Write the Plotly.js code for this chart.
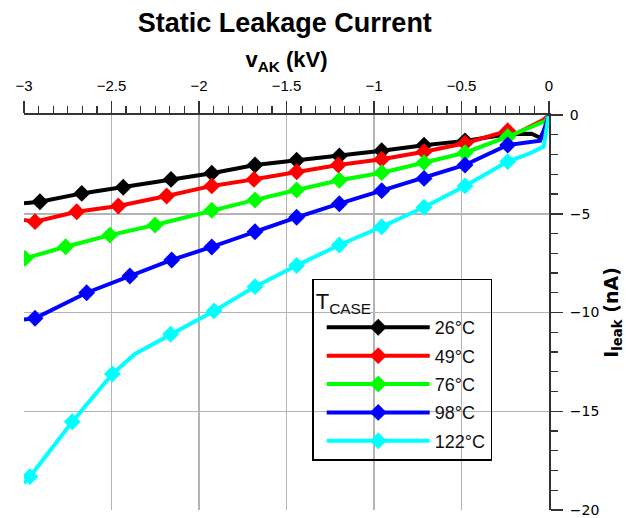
<!DOCTYPE html>
<html>
<head>
<meta charset="utf-8">
<script src="https://cdn.plot.ly/plotly-3.0.1.min.js"></script>
<style>html,body{margin:0;padding:0;background:#fff;}#chart{width:626px;height:518px;}</style>
</head>
<body>
<div id="chart"></div>
<script>
// Series labels (case temperature)
const seriesNames = ['26°C', '49°C', '76°C', '98°C', '122°C'];
const seriesColors = ['#000000', '#ff0000', '#00ff00', '#0000ff', '#00ffff'];

// Marker samples: v_AK (kV) and I_leak (nA)
const v26 = [-2.909, -2.670, -2.433, -2.160, -1.927, -1.680, -1.442, -1.198, -0.956, -0.714, -0.480, -0.236];
const i26 = [-4.39, -3.97, -3.66, -3.26, -2.95, -2.53, -2.29, -2.07, -1.81, -1.53, -1.31, -0.98];
const v49 = [-2.937, -2.699, -2.461, -2.185, -1.927, -1.686, -1.442, -1.204, -0.956, -0.714, -0.480, -0.236];
const i49 = [-5.40, -4.90, -4.61, -4.10, -3.59, -3.26, -2.87, -2.53, -2.24, -1.86, -1.43, -0.80];
const v76 = [-2.994, -2.762, -2.509, -2.251, -1.927, -1.680, -1.442, -1.198, -0.956, -0.714, -0.480, -0.236];
const i76 = [-7.26, -6.67, -6.08, -5.57, -4.82, -4.30, -3.80, -3.30, -2.92, -2.41, -1.91, -1.10];
const v98 = [-2.937, -2.642, -2.395, -2.156, -1.927, -1.680, -1.442, -1.198, -0.956, -0.714, -0.480, -0.236];
const i98 = [-10.29, -9.00, -8.15, -7.34, -6.68, -5.91, -5.18, -4.49, -3.83, -3.21, -2.53, -1.52];
const v122 = [-2.966, -2.724, -2.495, -2.162, -1.914, -1.680, -1.442, -1.198, -0.956, -0.714, -0.480, -0.236];
const i122 = [-18.31, -15.53, -13.11, -11.10, -9.92, -8.69, -7.62, -6.58, -5.66, -4.67, -3.59, -2.36];

// Additional measured samples between markers (line only)
const v26x = [-3.0, -0.10, -0.05, -0.015, 0.0];
const i26x = [-4.47, -0.95, -1.15, -0.60, 0.0];
const v49x = [-3.0, -0.19, -0.034, 0.0];
const i49x = [-5.32, -0.95, -0.25, 0.0];
const v76x = [-3.0, -0.02, 0.0];
const i76x = [-7.30, -0.30, 0.0];
const v98x = [-3.0, -0.05, 0.0];
const i98x = [-10.35, -1.30, 0.0];
const v122x = [-3.0, -2.366, -0.11, -0.03, -0.003];
const i122x = [-18.65, -12.10, -1.95, -1.60, -0.05];

const markV = [v26, v49, v76, v98, v122];
const markI = [i26, i49, i76, i98, i122];
const extV = [v26x, v49x, v76x, v98x, v122x];
const extI = [i26x, i49x, i76x, i98x, i122x];

const traces = [];
for (let k = 0; k < seriesNames.length; k++) {
  const pts = [];
  markV[k].forEach((v, j) => pts.push([v, markI[k][j]]));
  extV[k].forEach((v, j) => pts.push([v, extI[k][j]]));
  pts.sort((a, b) => a[0] - b[0]);
  traces.push({
    type: 'scatter', mode: 'lines', x: pts.map(p => p[0]), y: pts.map(p => p[1]),
    line: {color: seriesColors[k], width: 4}, showlegend: false, hoverinfo: 'skip'
  });
  traces.push({
    type: 'scatter', mode: 'markers', x: markV[k], y: markI[k],
    marker: {symbol: 'diamond', size: 13, color: seriesColors[k]},
    showlegend: false
  });
}
for (let k = 0; k < seriesNames.length; k++) {
  traces.push({
    type: 'scatter', mode: 'lines+markers', x: [null], y: [null], name: seriesNames[k],
    legendgroup: 'g' + k,
    line: {color: seriesColors[k], width: 4},
    marker: {symbol: 'diamond', size: 13, color: seriesColors[k]}
  });
}

const axisColor = '#333333';
const layout = {
  width: 626, height: 518,
  margin: {l: 24, r: 77, t: 115, b: 8},
  paper_bgcolor: '#ffffff', plot_bgcolor: '#ffffff',
  font: {family: 'Liberation Sans, Arial, sans-serif', color: '#000000', size: 14},
  title: {text: '<b>Static Leakage Current</b>', x: 0.455, xanchor: 'center', y: 0.956, yanchor: 'middle',
          font: {size: 27, family: 'Liberation Sans, Arial, sans-serif', color: '#000'}},
  showlegend: true,
  legend: {
    x: 0.549, y: 0.585, xanchor: 'left', yanchor: 'top',
    bgcolor: 'rgba(0,0,0,0)', bordercolor: '#000000', borderwidth: 1.5,
    font: {size: 18, family: 'Liberation Sans, Arial, sans-serif', color: '#111111'},
    title: {text: 'T<sub>CASE</sub>', font: {size: 22, color: '#111111'}},
    itemwidth: 103, indentation: 8, traceorder: 'grouped', tracegroupgap: 2,
    entrywidth: 70, entrywidthmode: 'pixels'
  },
  xaxis: {
    range: [-3, 0], side: 'top', dtick: 0.5, tick0: 0,
    showline: true, linecolor: axisColor, linewidth: 2, mirror: false,
    ticks: 'outside', ticklen: 12, tickwidth: 1.5, tickcolor: axisColor,
    minor: {dtick: 0.5 / 6, ticks: 'outside', ticklen: 7, tickwidth: 1.2, tickcolor: axisColor, showgrid: false},
    showgrid: true, gridcolor: '#b4b4b4', gridwidth: 1.5, zeroline: false,
    ticklabelstandoff: 4,
    tickfont: {size: 15, color: '#000'},
    title: {text: '<b>v<sub>AK</sub> (kV)</b>', font: {size: 22, color: '#000'}, standoff: 3}
  },
  yaxis: {
    range: [-20, 0], side: 'right', dtick: 5, tick0: 0,
    showline: true, linecolor: axisColor, linewidth: 2,
    ticks: 'outside', ticklen: 12, tickwidth: 1.5, tickcolor: axisColor,
    minor: {dtick: 1, ticks: 'outside', ticklen: 7, tickwidth: 1.2, tickcolor: axisColor, showgrid: false},
    showgrid: true, gridcolor: '#b4b4b4', gridwidth: 1.5, zeroline: false,
    ticklabelstandoff: 4,
    tickfont: {size: 14, color: '#000', family: 'DejaVu Sans, sans-serif'},
    title: {text: '<b>I<sub>leak</sub> (nA)</b>', font: {size: 19, color: '#000', family: 'DejaVu Sans, sans-serif'}, standoff: 6}
  }
};

Plotly.newPlot('chart', traces, layout, {displayModeBar: false, staticPlot: true});
</script>
</body>
</html>
